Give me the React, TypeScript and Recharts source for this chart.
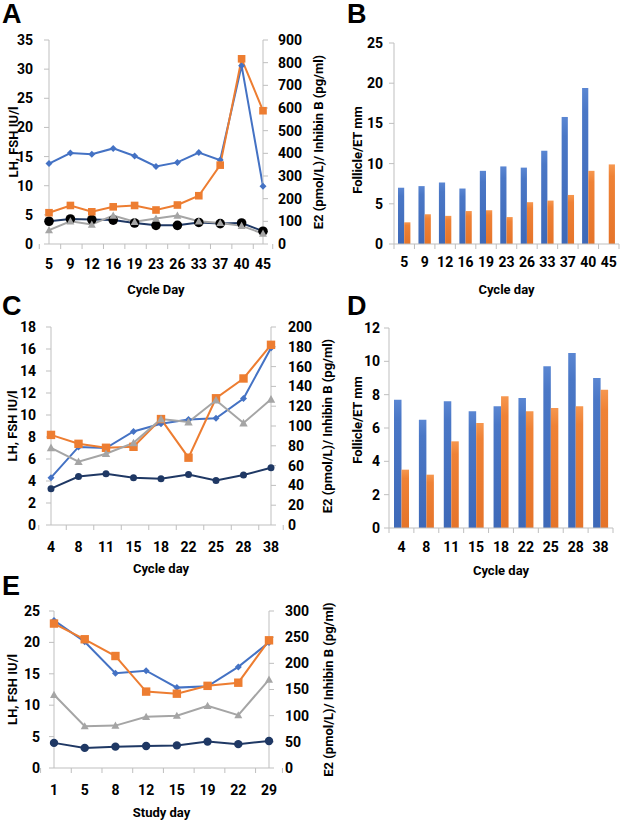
import React from 'react';
import { ComposedChart, BarChart, Line, Bar, XAxis, YAxis, Label } from 'recharts';

const FONT = 'Roboto, "Open Sans", Arial, sans-serif';
const AXIS = '#bfbfbf';
const BLUE = '#4472C4';
const ORANGE = '#ED7D31';
const GRAY = '#A5A5A5';
const NAVY = '#1F3864';

// Panel A: hormones by cycle day
const daysA = [5, 9, 12, 16, 19, 23, 26, 33, 37, 40, 45];
const lhA = [13.8, 15.6, 15.4, 16.4, 15.1, 13.3, 14.0, 15.7, 14.4, 30.6, 9.9];
const fshA = [3.9, 4.3, 4.2, 4.1, 3.6, 3.2, 3.2, 3.7, 3.5, 3.6, 2.2];
const e2A = [138, 170, 142, 164, 170, 150, 172, 213, 348, 817, 588];
const inhA = [61, 100, 86, 126, 98, 112, 126, 100, 93, 80, 46];
const leftTicksA = [0, 5, 10, 15, 20, 25, 30, 35];
const rightTicksA = [0, 100, 200, 300, 400, 500, 600, 700, 800, 900];

// Panel B: follicle / endometrial thickness
const follB = [7.0, 7.2, 7.65, 6.9, 9.1, 9.65, 9.5, 11.6, 15.8, 19.4, null];
const etB = [2.7, 3.7, 3.5, 4.1, 4.2, 3.35, 5.2, 5.4, 6.1, 9.1, 9.9];
const ticksB = [0, 5, 10, 15, 20, 25];

// Panel C
const daysC = [4, 8, 11, 15, 18, 22, 25, 28, 38];
const lhC = [4.3, 7.1, 7.0, 8.5, 9.2, 9.6, 9.7, 11.5, 16.1];
const fshC = [3.3, 4.4, 4.65, 4.3, 4.2, 4.6, 4.05, 4.55, 5.2];
const e2C = [91, 82, 78, 79, 107, 68, 128, 148, 182];
const inhC = [78, 64, 72, 83, 107, 104, 126, 103, 127];
const leftTicksC = [0, 2, 4, 6, 8, 10, 12, 14, 16, 18];
const rightTicksC = [0, 20, 40, 60, 80, 100, 120, 140, 160, 180, 200];

// Panel D
const follD = [7.7, 6.5, 7.6, 7.0, 7.3, 7.8, 9.7, 10.5, 9.0];
const etD = [3.5, 3.2, 5.2, 6.3, 7.9, 7.0, 7.2, 7.3, 8.3];
const ticksD = [0, 2, 4, 6, 8, 10, 12];

// Panel E: by study day
const daysE = [1, 5, 8, 12, 15, 19, 22, 29];
const lhE = [23.5, 20.1, 15.1, 15.5, 12.8, 13.0, 16.1, 20.0];
const fshE = [4.0, 3.2, 3.4, 3.5, 3.6, 4.2, 3.8, 4.3];
const e2E = [276, 246, 214, 146, 142, 157, 163, 244];
const inhE = [140, 80, 81, 98, 100, 119, 101, 169];
const leftTicksE = [0, 5, 10, 15, 20, 25];
const rightTicksE = [0, 50, 100, 150, 200, 250, 300];

const LH_TITLE = 'LH, FSH IU/l';
const E2_TITLE = 'E2 (pmol/L)/ Inhibin B (pg/ml)';
const FOLL_TITLE = 'Follicle/ET mm';

type Geo = { left: number; top: number; w: number; h: number; pl: number; pr: number; pt: number; pb: number };

const txt = { fontFamily: FONT, fontWeight: 700, fill: '#000' } as const;

const title = (text: string, x: number, y: number, angle = 0) => () => (
  <text
    x={x}
    y={y}
    transform={angle ? `rotate(${angle} ${x} ${y})` : undefined}
    textAnchor="middle"
    dominantBaseline="central"
    fontSize={13}
    {...txt}
  >
    {text}
  </text>
);

// excel style category ticks: marks between categories
const catTick = (band: number, n: number, dy: number) => (p: any) => {
  const { x, y, payload, index } = p;
  return (
    <g>
      <line x1={x - band / 2} x2={x - band / 2} y1={y} y2={y + 5} stroke={AXIS} />
      {index === n - 1 ? <line x1={x + band / 2} x2={x + band / 2} y1={y} y2={y + 5} stroke={AXIS} /> : null}
      <text x={x} y={y + dy} textAnchor="middle" dominantBaseline="central" fontSize={14} {...txt}>
        {payload.value}
      </text>
    </g>
  );
};

const diamond = (s: number, c: string) => (p: any) =>
  p.cx == null || p.cy == null ? <g key={`n${p.index}`} /> : (
    <path key={`d${p.index}`} d={`M${p.cx} ${p.cy - s}L${p.cx + s} ${p.cy}L${p.cx} ${p.cy + s}L${p.cx - s} ${p.cy}Z`} fill={c} />
  );
const square = (s: number, c: string) => (p: any) =>
  p.cx == null || p.cy == null ? <g key={`n${p.index}`} /> : (
    <rect key={`s${p.index}`} x={p.cx - s} y={p.cy - s} width={2 * s} height={2 * s} fill={c} />
  );
const triangle = (s: number, c: string) => (p: any) =>
  p.cx == null || p.cy == null ? <g key={`n${p.index}`} /> : (
    <path key={`t${p.index}`} d={`M${p.cx} ${p.cy - s}L${p.cx + s} ${p.cy + s * 0.8}L${p.cx - s} ${p.cy + s * 0.8}Z`} fill={c} />
  );
const circle = (r: number, c: string) => (p: any) =>
  p.cx == null || p.cy == null ? <g key={`n${p.index}`} /> : <circle key={`c${p.index}`} cx={p.cx} cy={p.cy} r={r} fill={c} />;

const yTick = { fontSize: 14, ...txt };

interface HormoneProps {
  geo: Geo;
  days: number[];
  lh: number[];
  fsh: number[];
  e2: number[];
  inh: number[];
  leftTicks: number[];
  rightTicks: number[];
  xTitle: string;
  tickDy: number;
  xTitleY: number;
  lTitleX: number;
  rTitleX: number;
  lMargin: number;
  rMargin: number;
  fshDot: string;
  fshR: number;
  sq: number;
  tri: number;
}

const HormonePanel = (p: HormoneProps) => {
  const g = p.geo;
  const rows = p.days.map((d, i) => ({ day: d, lh: p.lh[i], fsh: p.fsh[i], e2: p.e2[i], inh: p.inh[i] }));
  const band = (g.pr - g.pl) / p.days.length;
  const midY = (g.pt + g.pb) / 2;
  return (
    <div style={{ position: 'absolute', left: g.left, top: g.top }}>
      <ComposedChart width={g.w} height={g.h} data={rows} margin={{ top: g.pt, right: 0, bottom: 0, left: 0 }}>
        <XAxis
          dataKey="day"
          interval={0}
          height={g.h - g.pb}
          tickSize={0}
          tickMargin={0}
          tickLine={false}
          axisLine={{ stroke: AXIS }}
          tick={catTick(band, p.days.length, p.tickDy)}
        >
          <Label content={title(p.xTitle, (g.pl + g.pr) / 2, p.xTitleY)} />
        </XAxis>
        <YAxis
          yAxisId="l"
          width={g.pl}
          domain={[p.leftTicks[0], p.leftTicks[p.leftTicks.length - 1]]}
          ticks={p.leftTicks}
          interval={0}
          tickSize={5}
          tickMargin={p.lMargin}
          tick={yTick}
          tickLine={{ stroke: AXIS }}
          axisLine={{ stroke: AXIS }}
        >
          <Label content={title(LH_TITLE, p.lTitleX, midY, -90)} />
        </YAxis>
        <YAxis
          yAxisId="r"
          orientation="right"
          width={g.w - g.pr}
          domain={[p.rightTicks[0], p.rightTicks[p.rightTicks.length - 1]]}
          ticks={p.rightTicks}
          interval={0}
          tickSize={5}
          tickMargin={p.rMargin}
          tick={yTick}
          tickLine={{ stroke: AXIS }}
          axisLine={{ stroke: AXIS }}
        >
          <Label content={title(E2_TITLE, p.rTitleX, midY, -90)} />
        </YAxis>
        <Line yAxisId="l" dataKey="lh" stroke={BLUE} strokeWidth={2} dot={diamond(3.5, BLUE)} isAnimationActive={false} />
        <Line yAxisId="l" dataKey="fsh" stroke={NAVY} strokeWidth={2} dot={circle(p.fshR, p.fshDot)} isAnimationActive={false} />
        <Line yAxisId="r" dataKey="e2" stroke={ORANGE} strokeWidth={2} dot={square(p.sq, ORANGE)} isAnimationActive={false} />
        <Line yAxisId="r" dataKey="inh" stroke={GRAY} strokeWidth={2} dot={triangle(p.tri, GRAY)} isAnimationActive={false} />
      </ComposedChart>
    </div>
  );
};

interface BarProps {
  geo: Geo;
  days: number[];
  foll: (number | null)[];
  et: number[];
  ticks: number[];
  tickDy: number;
  xTitleY: number;
  titleX: number;
  titleY: number;
  lMargin: number;
  barSize: number;
  id: string;
}

const FolliclePanel = (p: BarProps) => {
  const g = p.geo;
  const rows = p.days.map((d, i) => ({ day: d, foll: p.foll[i], et: p.et[i] }));
  const band = (g.pr - g.pl) / p.days.length;
  return (
    <div style={{ position: 'absolute', left: g.left, top: g.top }}>
      <BarChart
        width={g.w}
        height={g.h}
        data={rows}
        barGap={0}
        margin={{ top: g.pt, right: g.w - g.pr, bottom: 0, left: 0 }}
      >
        <defs>
          <linearGradient id={`blue${p.id}`} x1="0" y1="0" x2="0" y2="1">
            <stop offset="0" stopColor="#5a86d2" />
            <stop offset="0.15" stopColor="#4a77c6" />
            <stop offset="1" stopColor="#3e69b8" />
          </linearGradient>
          <linearGradient id={`orange${p.id}`} x1="0" y1="0" x2="0" y2="1">
            <stop offset="0" stopColor="#f6974f" />
            <stop offset="0.15" stopColor="#ef8236" />
            <stop offset="1" stopColor="#e5742a" />
          </linearGradient>
        </defs>
        <XAxis
          dataKey="day"
          interval={0}
          height={g.h - g.pb}
          tickSize={0}
          tickMargin={0}
          tickLine={false}
          axisLine={{ stroke: AXIS }}
          tick={catTick(band, p.days.length, p.tickDy)}
        >
          <Label content={title('Cycle day', (g.pl + g.pr) / 2, p.xTitleY)} />
        </XAxis>
        <YAxis
          width={g.pl}
          domain={[p.ticks[0], p.ticks[p.ticks.length - 1]]}
          ticks={p.ticks}
          interval={0}
          tickSize={5}
          tickMargin={p.lMargin}
          tick={yTick}
          tickLine={{ stroke: AXIS }}
          axisLine={{ stroke: AXIS }}
        >
          <Label content={title(FOLL_TITLE, p.titleX, p.titleY, -90)} />
        </YAxis>
        <Bar dataKey="foll" fill={`url(#blue${p.id})`} barSize={p.barSize} isAnimationActive={false} />
        <Bar dataKey="et" fill={`url(#orange${p.id})`} barSize={p.barSize} isAnimationActive={false} />
      </BarChart>
    </div>
  );
};

const Letter = ({ ch, x, y }: { ch: string; x: number; y: number }) => (
  <div
    style={{
      position: 'absolute',
      left: x,
      top: Math.max(0, y - 3),
      fontFamily: 'Arial, "Liberation Sans", sans-serif',
      fontWeight: 700,
      fontSize: 27,
      lineHeight: '28px',
    }}
  >
    {ch}
  </div>
);

export default function App() {
  return (
    <div style={{ position: 'absolute', left: 0, top: 0, width: 620, height: 820, background: '#fff', overflow: 'hidden' }}>
      <HormonePanel
        geo={{ left: 0, top: 0, w: 335, h: 300, pl: 49, pr: 263, pt: 40, pb: 244 }}
        days={daysA}
        lh={lhA}
        fsh={fshA}
        e2={e2A}
        inh={inhA}
        leftTicks={leftTicksA}
        rightTicks={rightTicksA}
        xTitle="Cycle Day"
        tickDy={20}
        xTitleY={289}
        lTitleX={13}
        rTitleX={318}
        lMargin={11}
        rMargin={10}
        fshDot="#000"
        fshR={4.8}
        sq={3.8}
        tri={4}
      />
      <FolliclePanel
        geo={{ left: 320, top: 0, w: 300, h: 300, pl: 74, pr: 299, pt: 43, pb: 244 }}
        days={daysA}
        foll={follB}
        et={etB}
        ticks={ticksB}
        tickDy={18}
        xTitleY={289}
        titleX={37}
        titleY={150}
        lMargin={6}
        barSize={6.2}
        id="B"
      />
      <HormonePanel
        geo={{ left: 0, top: 280, w: 340, h: 300, pl: 51, pr: 271, pt: 47, pb: 245 }}
        days={daysC}
        lh={lhC}
        fsh={fshC}
        e2={e2C}
        inh={inhC}
        leftTicks={leftTicksC}
        rightTicks={rightTicksC}
        xTitle="Cycle day"
        tickDy={22}
        xTitleY={288}
        lTitleX={12}
        rTitleX={327}
        lMargin={10}
        rMargin={12}
        fshDot={NAVY}
        fshR={3.5}
        sq={4.2}
        tri={4.2}
      />
      <FolliclePanel
        geo={{ left: 320, top: 280, w: 300, h: 300, pl: 69, pr: 293, pt: 48, pb: 248 }}
        days={daysC}
        foll={follD}
        et={etD}
        ticks={ticksD}
        tickDy={19}
        xTitleY={290}
        titleX={37}
        titleY={140}
        lMargin={4}
        barSize={7.5}
        id="D"
      />
      <HormonePanel
        geo={{ left: 0, top: 560, w: 340, h: 260, pl: 54, pr: 269, pt: 51, pb: 208 }}
        days={daysE}
        lh={lhE}
        fsh={fshE}
        e2={e2E}
        inh={inhE}
        leftTicks={leftTicksE}
        rightTicks={rightTicksE}
        xTitle="Study day"
        tickDy={22}
        xTitleY={252}
        lTitleX={12}
        rTitleX={328}
        lMargin={9}
        rMargin={11}
        fshDot={NAVY}
        fshR={4.2}
        sq={4.2}
        tri={4}
      />
      <Letter ch="A" x={2} y={2} />
      <Letter ch="B" x={347} y={2} />
      <Letter ch="C" x={2} y={295} />
      <Letter ch="D" x={347} y={295} />
      <Letter ch="E" x={2} y={575} />
    </div>
  );
}
